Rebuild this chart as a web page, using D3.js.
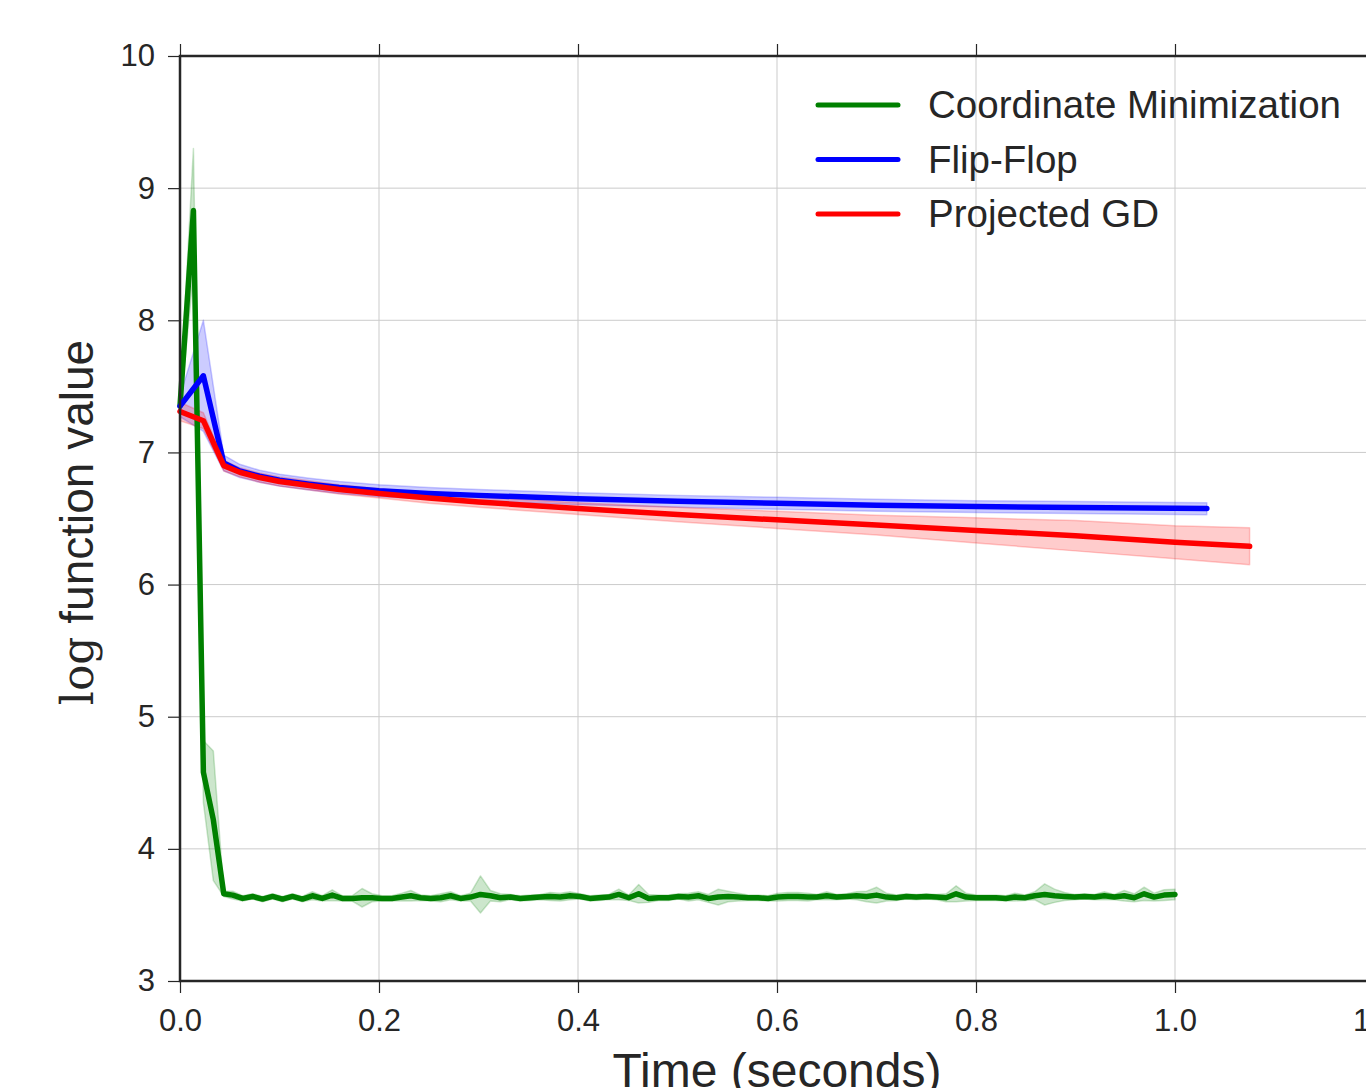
<!DOCTYPE html>
<html>
<head>
<meta charset="utf-8">
<script src="https://cdn.jsdelivr.net/npm/d3@7"></script>
<style>
  body { margin: 0; background: #fff; }
  svg { display: block; }
  .tick text { font-family: "Liberation Sans", Arial, sans-serif; }
</style>
</head>
<body>
<div id="chart"></div>
<script>
// Données
const xTicks = [0.0, 0.2, 0.4, 0.6, 0.8, 1.0, 1.2];
const yTicks = [3, 4, 5, 6, 7, 8, 9, 10];

const seriesNames = ["Coordinate Minimization", "Flip-Flop", "Projected GD"];
const seriesColors = ["#008000", "#0000ff", "#ff0000"];

// Coordinate Minimization
const cmTime = [0, 0.0135, 0.0235, 0.0335, 0.044,
  0.053, 0.063, 0.073, 0.083, 0.093, 0.103, 0.113, 0.123, 0.133, 0.143,
  0.153, 0.163, 0.173, 0.183, 0.193, 0.203, 0.213, 0.223, 0.232, 0.242,
  0.252, 0.262, 0.272, 0.282, 0.292, 0.302, 0.312, 0.322, 0.332, 0.342,
  0.352, 0.362, 0.372, 0.382, 0.392, 0.402, 0.412, 0.421, 0.431, 0.441,
  0.451, 0.461, 0.471, 0.481, 0.491, 0.501, 0.511, 0.521, 0.531, 0.541,
  0.551, 0.561, 0.571, 0.581, 0.591, 0.601, 0.611, 0.621, 0.631, 0.640,
  0.650, 0.660, 0.670, 0.680, 0.690, 0.700, 0.710, 0.720, 0.730, 0.740,
  0.750, 0.760, 0.770, 0.780, 0.790, 0.800, 0.810, 0.820, 0.830, 0.839,
  0.849, 0.859, 0.869, 0.879, 0.889, 0.899, 0.909, 0.919, 0.929, 0.939,
  0.949, 0.959, 0.969, 0.979, 0.989, 1.0];
const cmValue = [7.35, 8.83, 4.58, 4.22, 3.66,
  3.65, 3.625, 3.64, 3.62, 3.64, 3.62, 3.64, 3.62, 3.645, 3.625,
  3.65, 3.625, 3.625, 3.63, 3.63, 3.625, 3.625, 3.635, 3.645, 3.63,
  3.625, 3.63, 3.645, 3.625, 3.635, 3.655, 3.645, 3.63, 3.635, 3.625,
  3.63, 3.635, 3.64, 3.635, 3.645, 3.64, 3.625, 3.63, 3.635, 3.655,
  3.63, 3.66, 3.625, 3.63, 3.63, 3.64, 3.635, 3.645, 3.625, 3.635,
  3.64, 3.635, 3.63, 3.63, 3.625, 3.635, 3.64, 3.64, 3.635, 3.635,
  3.645, 3.635, 3.64, 3.645, 3.64, 3.65, 3.635, 3.63, 3.64, 3.635,
  3.64, 3.635, 3.63, 3.66, 3.635, 3.63, 3.63, 3.63, 3.625, 3.635,
  3.63, 3.645, 3.655, 3.645, 3.64, 3.635, 3.64, 3.635, 3.645, 3.635,
  3.645, 3.63, 3.66, 3.635, 3.65, 3.655];
const cmLow = [7.30, 8.36, 4.35, 3.76, 3.64,
  3.62, 3.605, 3.62, 3.60, 3.62, 3.60, 3.62, 3.60, 3.615, 3.605,
  3.61, 3.605, 3.605, 3.56, 3.60, 3.605, 3.605, 3.605, 3.605, 3.61,
  3.605, 3.60, 3.615, 3.605, 3.605, 3.515, 3.605, 3.60, 3.615, 3.605,
  3.61, 3.615, 3.61, 3.605, 3.615, 3.62, 3.605, 3.61, 3.615, 3.615,
  3.61, 3.59, 3.595, 3.61, 3.61, 3.62, 3.605, 3.615, 3.595, 3.575,
  3.60, 3.605, 3.61, 3.61, 3.605, 3.605, 3.61, 3.61, 3.605, 3.615,
  3.615, 3.615, 3.62, 3.615, 3.60, 3.59, 3.605, 3.61, 3.62, 3.615,
  3.62, 3.615, 3.60, 3.60, 3.605, 3.61, 3.61, 3.61, 3.605, 3.605,
  3.61, 3.615, 3.575, 3.595, 3.61, 3.615, 3.62, 3.615, 3.615, 3.615,
  3.605, 3.60, 3.61, 3.605, 3.61, 3.615];
const cmHigh = [7.40, 9.30, 4.82, 4.74, 3.68,
  3.68, 3.645, 3.66, 3.64, 3.66, 3.64, 3.66, 3.64, 3.675, 3.645,
  3.69, 3.645, 3.645, 3.70, 3.66, 3.645, 3.645, 3.665, 3.685, 3.65,
  3.645, 3.66, 3.675, 3.645, 3.665, 3.795, 3.685, 3.66, 3.655, 3.645,
  3.65, 3.655, 3.67, 3.665, 3.675, 3.66, 3.645, 3.65, 3.655, 3.695,
  3.65, 3.73, 3.655, 3.65, 3.65, 3.66, 3.665, 3.675, 3.655, 3.695,
  3.68, 3.665, 3.65, 3.65, 3.645, 3.665, 3.67, 3.67, 3.665, 3.655,
  3.675, 3.655, 3.66, 3.675, 3.68, 3.71, 3.665, 3.65, 3.66, 3.655,
  3.66, 3.655, 3.66, 3.72, 3.665, 3.65, 3.65, 3.65, 3.645, 3.665,
  3.65, 3.675, 3.735, 3.695, 3.67, 3.655, 3.66, 3.655, 3.675, 3.655,
  3.685, 3.66, 3.71, 3.665, 3.69, 3.695];

// Flip-Flop
const ffTime = [0, 0.0235, 0.044, 0.06, 0.08, 0.1, 0.13, 0.16, 0.2, 0.25, 0.3,
  0.4, 0.5, 0.6, 0.7, 0.8, 0.9, 1.0, 1.032];
const ffValue = [7.35, 7.58, 6.92, 6.86, 6.82, 6.79, 6.76, 6.735, 6.71, 6.69, 6.675,
  6.65, 6.63, 6.615, 6.60, 6.59, 6.583, 6.577, 6.575];
const ffLow = [7.27, 7.16, 6.86, 6.81, 6.775, 6.745, 6.715, 6.69, 6.665, 6.645, 6.63,
  6.605, 6.585, 6.57, 6.555, 6.545, 6.537, 6.53, 6.528];
const ffHigh = [7.43, 8.00, 6.98, 6.91, 6.865, 6.835, 6.805, 6.78, 6.755, 6.735, 6.72,
  6.695, 6.675, 6.66, 6.645, 6.635, 6.628, 6.622, 6.62];

// Projected GD
const pgTime = [0, 0.0235, 0.044, 0.06, 0.08, 0.1, 0.13, 0.16, 0.2, 0.25, 0.3,
  0.4, 0.5, 0.6, 0.7, 0.8, 0.9, 1.0, 1.075];
const pgValue = [7.31, 7.24, 6.90, 6.85, 6.81, 6.78, 6.75, 6.72, 6.69, 6.655, 6.625,
  6.575, 6.53, 6.49, 6.45, 6.41, 6.37, 6.32, 6.29];
const pgLow = [7.24, 7.18, 6.86, 6.815, 6.775, 6.745, 6.715, 6.685, 6.655, 6.615, 6.585,
  6.53, 6.475, 6.425, 6.375, 6.315, 6.255, 6.195, 6.15];
const pgHigh = [7.38, 7.30, 6.94, 6.885, 6.845, 6.815, 6.785, 6.755, 6.725, 6.695, 6.665,
  6.62, 6.585, 6.555, 6.525, 6.505, 6.485, 6.445, 6.43];

const margin = { top: 56, left: 180 };
const plotWidth = 1194, plotHeight = 925;
const W = 1366, H = 1088;

const svg = d3.select("#chart").append("svg")
    .attr("width", W)
    .attr("height", H);

const g = svg.append("g")
    .attr("transform", `translate(${margin.left},${margin.top})`);

const x = d3.scaleLinear().domain([0, 1.2]).range([0, plotWidth]);
const y = d3.scaleLinear().domain([3, 10]).range([plotHeight, 0]);

// Grille
g.append("g").selectAll("line")
    .data(xTicks)
    .enter().append("line")
    .attr("x1", d => x(d)).attr("x2", d => x(d))
    .attr("y1", 0).attr("y2", plotHeight)
    .attr("stroke", "#cbcbcb").attr("stroke-width", 1);

g.append("g").selectAll("line")
    .data(yTicks)
    .enter().append("line")
    .attr("x1", 0).attr("x2", plotWidth)
    .attr("y1", d => y(d)).attr("y2", d => y(d))
    .attr("stroke", "#cbcbcb").attr("stroke-width", 1);

// Bandes et courbes
const series = [
  { t: cmTime, v: cmValue, lo: cmLow, hi: cmHigh },
  { t: ffTime, v: ffValue, lo: ffLow, hi: ffHigh },
  { t: pgTime, v: pgValue, lo: pgLow, hi: pgHigh }
];

const area = d3.area()
    .x(d => x(d.t))
    .y0(d => y(d.lo))
    .y1(d => y(d.hi));

const line = d3.line()
    .x(d => x(d.t))
    .y(d => y(d.v));

series.forEach((s, i) => {
  const pts = s.t.map((t, j) => ({ t: t, v: s.v[j], lo: s.lo[j], hi: s.hi[j] }));
  g.append("path")
      .datum(pts)
      .attr("d", area)
      .attr("fill", seriesColors[i])
      .attr("fill-opacity", 0.2)
      .attr("stroke", seriesColors[i])
      .attr("stroke-opacity", 0.2)
      .attr("stroke-width", 1.5)
      .attr("stroke-linejoin", "round");
});

series.forEach((s, i) => {
  const pts = s.t.map((t, j) => ({ t: t, v: s.v[j] }));
  g.append("path")
      .datum(pts)
      .attr("d", line)
      .attr("fill", "none")
      .attr("stroke", seriesColors[i])
      .attr("stroke-width", 5.5)
      .attr("stroke-linejoin", "round")
      .attr("stroke-linecap", "round");
});

// Axes
const tickColor = "#262626";
const fmt = d3.format(".1f");

const xAxis = g.append("g")
    .attr("transform", `translate(0,${plotHeight})`)
    .call(d3.axisBottom(x).tickValues(xTicks).tickFormat(fmt).tickSize(12).tickPadding(16));
const xAxisTop = g.append("g")
    .call(d3.axisTop(x).tickValues(xTicks).tickFormat("").tickSize(12));
const yAxis = g.append("g")
    .call(d3.axisLeft(y).tickValues(yTicks).tickFormat(d3.format("d")).tickSize(12).tickPadding(13));
const yAxisRight = g.append("g")
    .attr("transform", `translate(${plotWidth},0)`)
    .call(d3.axisRight(y).tickValues(yTicks).tickFormat("").tickSize(12));

[xAxis, xAxisTop, yAxis, yAxisRight].forEach(a => {
  a.select(".domain").remove();
  a.selectAll(".tick line").attr("stroke", tickColor).attr("stroke-width", 1.2);
  a.selectAll(".tick text")
      .attr("fill", tickColor)
      .style("font-size", "31px");
});

// Cadre
g.append("rect")
    .attr("x", 0).attr("y", 0)
    .attr("width", plotWidth).attr("height", plotHeight)
    .attr("fill", "none")
    .attr("stroke", tickColor)
    .attr("stroke-width", 2.5);

// Titres des axes
g.append("text")
    .attr("x", x(0.6))
    .attr("y", 1087 - margin.top)
    .attr("text-anchor", "middle")
    .attr("font-family", "Liberation Sans, Arial, sans-serif")
    .attr("font-size", "48px")
    .attr("fill", tickColor)
    .text("Time (seconds)");

const ylab = svg.append("text")
    .attr("transform", `translate(93,${margin.top + plotHeight / 2 + 4}) rotate(-90)`)
    .attr("text-anchor", "middle")
    .attr("font-family", "Liberation Sans, Arial, sans-serif")
    .attr("font-size", "46px")
    .attr("fill", tickColor);
ylab.append("tspan")
    .attr("font-family", "DejaVu Serif, Liberation Serif, serif")
    .attr("font-size", "44px")
    .text("log");
ylab.append("tspan").text(" function value");

// Légende
const legend = svg.selectAll(".legend")
    .data(seriesNames)
    .enter().append("g")
    .attr("class", "legend")
    .attr("transform", (d, i) => `translate(818,${105 + i * 54.5})`);

legend.append("line")
    .attr("x1", 0).attr("x2", 80)
    .attr("y1", 0).attr("y2", 0)
    .attr("stroke", (d, i) => seriesColors[i])
    .attr("stroke-width", 5)
    .attr("stroke-linecap", "round");

legend.append("text")
    .attr("x", 110)
    .attr("y", 0)
    .attr("dy", ".35em")
    .attr("font-family", "Liberation Sans, Arial, sans-serif")
    .attr("font-size", "38.5px")
    .attr("fill", tickColor)
    .text(d => d);
</script>
</body>
</html>
